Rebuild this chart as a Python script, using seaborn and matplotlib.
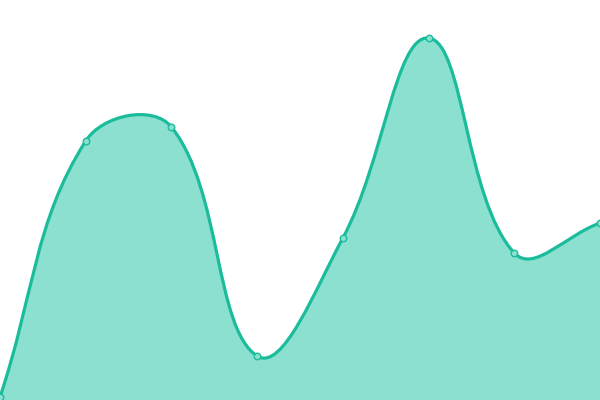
import numpy as np
import matplotlib
matplotlib.use("Agg")
import matplotlib.pyplot as plt
from matplotlib.path import Path
from matplotlib.patches import PathPatch
import seaborn as sns

# --- data ---
steps = [0, 1, 2, 3, 4, 5, 6, 7]
values = [3, 259, 273, 44, 162, 362, 147, 177]

LINE = "#1abc9c"
FILL = "#8be0cf"
TENSION = 0.4

sns.set_theme(style="white")

fig = plt.figure(figsize=(6, 4), dpi=100)
ax = fig.add_axes([0, 0, 1, 1])
ax.set_xlim(0, 7)
ax.set_ylim(0, 400)
ax.axis("off")

# spline control points computed in screen pixels (chart.js style tension)
pts = ax.transData.transform(np.column_stack([steps, values]))
n = len(pts)
cp_in = pts.copy()
cp_out = pts.copy()
for i in range(n):
    prev = pts[max(i - 1, 0)]
    cur = pts[i]
    nxt = pts[min(i + 1, n - 1)]
    d01 = np.hypot(*(cur - prev))
    d12 = np.hypot(*(nxt - cur))
    tot = d01 + d12
    s01 = d01 / tot if tot else 0
    s12 = d12 / tot if tot else 0
    cp_in[i] = cur - TENSION * s01 * (nxt - prev)
    cp_out[i] = cur + TENSION * s12 * (nxt - prev)

# keep control points inside the plot area
lo = ax.transAxes.transform((0, 0))
hi = ax.transAxes.transform((1, 1))
cp_in = np.clip(cp_in, lo, hi)
cp_out = np.clip(cp_out, lo, hi)

verts = [pts[0]]
codes = [Path.MOVETO]
for i in range(n - 1):
    verts += [cp_out[i], cp_in[i + 1], pts[i + 1]]
    codes += [Path.CURVE4] * 3
inv = ax.transData.inverted()
verts = [tuple(p) for p in inv.transform(np.array(verts))]

line_path = Path(verts, codes)
fill_path = Path(verts + [(steps[-1], 0), (steps[0], 0), verts[0]],
                 codes + [Path.LINETO, Path.LINETO, Path.CLOSEPOLY])

ax.add_patch(PathPatch(fill_path, facecolor=FILL, edgecolor="none", zorder=1))
ax.add_patch(PathPatch(line_path, facecolor="none", edgecolor=LINE, lw=2.3,
                       capstyle="round", joinstyle="round", zorder=2))
sns.scatterplot(x=steps, y=values, ax=ax, s=22, color=FILL, edgecolor=LINE,
                linewidth=1.0, zorder=3, clip_on=False)

plt.savefig("out.png", dpi=100)
plt.close()
